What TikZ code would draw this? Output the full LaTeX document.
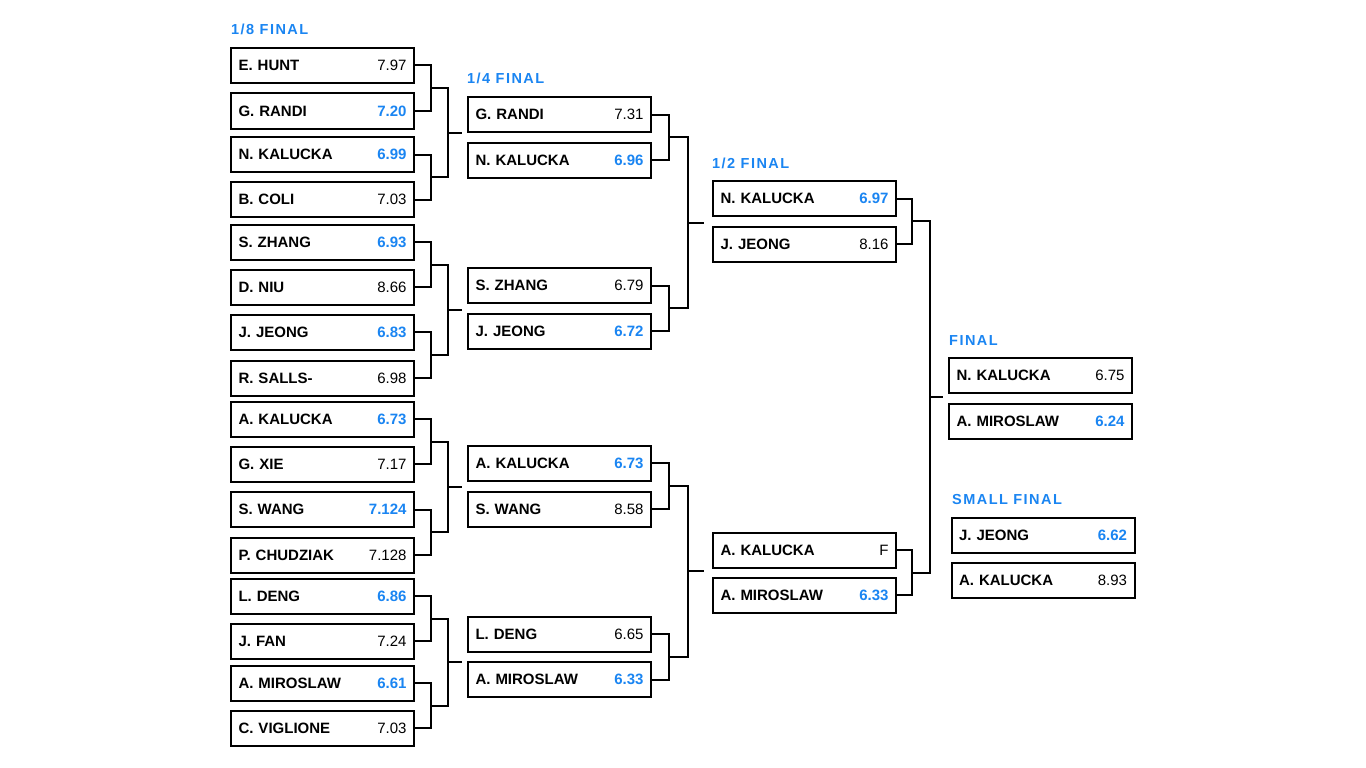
\documentclass[tikz,border=0pt]{standalone}
\usepackage{fontspec}
\setmainfont{Liberation Sans}
\usetikzlibrary{calc}
\definecolor{winblue}{RGB}{26,133,242}
\newcommand{\won}[1]{\textcolor{winblue}{\bfseries #1}}
\newcommand{\lost}[1]{{\mdseries #1}}
% bracket: top anchor, bottom anchor, junction name, offset
\newcommand{\bracket}[4]{%
  \coordinate (#3) at ($(#1)!.5!(#2)+(#4,0)$);
  \draw[link] (#1) -| (#3) |- (#2);}

\begin{document}
\begin{tikzpicture}[x=1pt,y=-1pt,
	box/.style={draw,line width=2pt,minimum height=35pt,text width=168pt,
		inner xsep=7.5pt,inner ysep=0pt,font=\fontsize{15}{18}\selectfont\bfseries},
	link/.style={line width=2pt,line join=miter},
	round title/.style={anchor=base west,text=winblue,inner sep=0pt,
		font=\fontsize{14.5}{16}\selectfont\bfseries\addfontfeature{LetterSpace=10}}]

	\fill[white] (0,0) rectangle (1366,768);
	\useasboundingbox (0,0) rectangle (1366,768);

	% titles
	\node[round title] (t8) at (231,35) {1/8 FINAL};
	\node[round title] (t4) at (467,84) {1/4 FINAL};
	\node[round title] (t2) at (712,168) {1/2 FINAL};
	\node[round title] (tf) at (949,345) {FINAL};
	\node[round title] (ts) at (952,504) {SMALL FINAL};

	% 1/8 final
	\node[box] (a1) at (322.5,65.5) {E. HUNT\hfill\lost{7.97}};
	\node[box] (a2) at (322.5,111) {G. RANDI\hfill\won{7.20}};
	\node[box] (a3) at (322.5,154.5) {N. KALUCKA\hfill\won{6.99}};
	\node[box] (a4) at (322.5,199.5) {B. COLI\hfill\lost{7.03}};
	\node[box] (a5) at (322.5,242) {S. ZHANG\hfill\won{6.93}};
	\node[box] (a6) at (322.5,287) {D. NIU\hfill\lost{8.66}};
	\node[box] (a7) at (322.5,332) {J. JEONG\hfill\won{6.83}};
	\node[box] (a8) at (322.5,378) {R. SALLS-\hfill\lost{6.98}};
	\node[box] (a9) at (322.5,419) {A. KALUCKA\hfill\won{6.73}};
	\node[box] (a10) at (322.5,464) {G. XIE\hfill\lost{7.17}};
	\node[box] (a11) at (322.5,509.5) {S. WANG\hfill\won{7.124}};
	\node[box] (a12) at (322.5,555) {P. CHUDZIAK\hfill\lost{7.128}};
	\node[box] (a13) at (322.5,596) {L. DENG\hfill\won{6.86}};
	\node[box] (a14) at (322.5,641) {J. FAN\hfill\lost{7.24}};
	\node[box] (a15) at (322.5,683) {A. MIROSLAW\hfill\won{6.61}};
	\node[box] (a16) at (322.5,728) {C. VIGLIONE\hfill\lost{7.03}};

	% 1/4 final
	\node[box] (b1) at (559.5,114.5) {G. RANDI\hfill\lost{7.31}};
	\node[box] (b2) at (559.5,160) {N. KALUCKA\hfill\won{6.96}};
	\node[box] (b3) at (559.5,285.5) {S. ZHANG\hfill\lost{6.79}};
	\node[box] (b4) at (559.5,331) {J. JEONG\hfill\won{6.72}};
	\node[box] (b5) at (559.5,463) {A. KALUCKA\hfill\won{6.73}};
	\node[box] (b6) at (559.5,509) {S. WANG\hfill\lost{8.58}};
	\node[box] (b7) at (559.5,634) {L. DENG\hfill\lost{6.65}};
	\node[box] (b8) at (559.5,679.5) {A. MIROSLAW\hfill\won{6.33}};

	% 1/2 final
	\node[box] (c1) at (804.5,198.5) {N. KALUCKA\hfill\won{6.97}};
	\node[box] (c2) at (804.5,244) {J. JEONG\hfill\lost{8.16}};
	\node[box] (c3) at (804.5,550) {A. KALUCKA\hfill\lost{F}};
	\node[box] (c4) at (804.5,595) {A. MIROSLAW\hfill\won{6.33}};

	% final and small final
	\node[box] (f1) at (1040.5,375.5) {N. KALUCKA\hfill\lost{6.75}};
	\node[box] (f2) at (1040.5,421) {A. MIROSLAW\hfill\won{6.24}};
	\node[box] (s1) at (1043,535) {J. JEONG\hfill\won{6.62}};
	\node[box] (s2) at (1043,580) {A. KALUCKA\hfill\lost{8.93}};

	% brackets 1/8
	\bracket{a1.east}{a2.east}{ja1}{16}
	\bracket{a3.east}{a4.east}{ja2}{16}
	\bracket{a5.east}{a6.east}{ja3}{16}
	\bracket{a7.east}{a8.east}{ja4}{16}
	\bracket{a9.east}{a10.east}{ja5}{16}
	\bracket{a11.east}{a12.east}{ja6}{16}
	\bracket{a13.east}{a14.east}{ja7}{16}
	\bracket{a15.east}{a16.east}{ja8}{16}
	\bracket{ja1}{ja2}{ka1}{17}
	\bracket{ja3}{ja4}{ka2}{17}
	\bracket{ja5}{ja6}{ka3}{17}
	\bracket{ja7}{ja8}{ka4}{17}
	\coordinate (za1) at ($(ka1)+(14,0)$);
	\coordinate (za2) at ($(ka2)+(14,0)$);
	\coordinate (za3) at ($(ka3)+(14,0)$);
	\coordinate (za4) at ($(ka4)+(14,0)$);
	\draw[link] (ka1) -- (za1);
	\draw[link] (ka2) -- (za2);
	\draw[link] (ka3) -- (za3);
	\draw[link] (ka4) -- (za4);

	% brackets 1/4
	\bracket{b1.east}{b2.east}{jb1}{17}
	\bracket{b3.east}{b4.east}{jb2}{17}
	\bracket{b5.east}{b6.east}{jb3}{17}
	\bracket{b7.east}{b8.east}{jb4}{17}
	\bracket{jb1}{jb2}{kb1}{19}
	\bracket{jb3}{jb4}{kb2}{19}
	\coordinate (zb1) at ($(kb1)+(16,0)$);
	\coordinate (zb2) at ($(kb2)+(16,0)$);
	\draw[link] (kb1) -- (zb1);
	\draw[link] (kb2) -- (zb2);

	% brackets 1/2
	\bracket{c1.east}{c2.east}{jc1}{15}
	\bracket{c3.east}{c4.east}{jc2}{15}
	\bracket{jc1}{jc2}{kc1}{18}
	\coordinate (zc1) at ($(kc1)+(13,0)$);
	\draw[link] (kc1) -- (zc1);

\end{tikzpicture}
\end{document}
